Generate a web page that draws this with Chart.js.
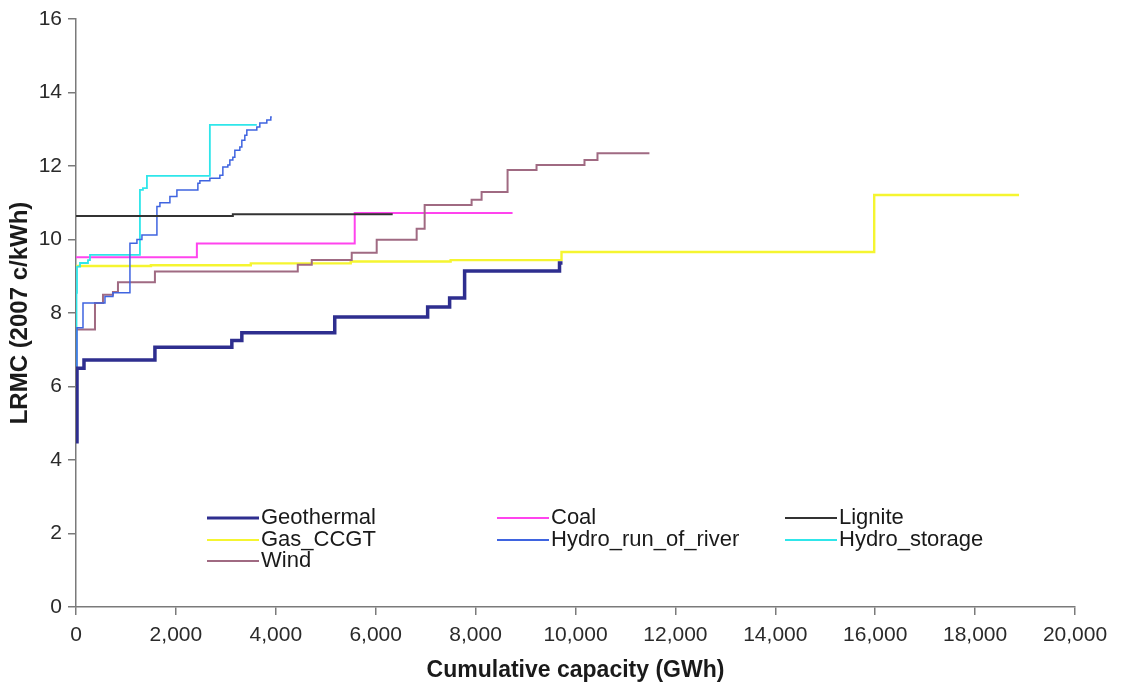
<!DOCTYPE html>
<html>
<head>
<meta charset="utf-8">
<script src="https://cdn.jsdelivr.net/npm/chart.js@4.4.0/dist/chart.umd.min.js"></script>
<style>
  html, body { margin: 0; padding: 0; background: #fff; }
  #wrap { width: 1132px; height: 684px; }
</style>
</head>
<body>
<div id="wrap"><canvas id="lrmcChart" width="1132" height="684"></canvas></div>
<script>
/* --------------- Supply curve steps: cumulative GWh where each block starts, LRMC in 2007 c/kWh --------------- */
const geothermalGWh = [0, 20, 160, 1580, 3120, 3320, 5180, 7040, 7480, 7780, 9680, 9740];
const geothermalLRMC = [4.5, 6.5, 6.72, 7.07, 7.25, 7.46, 7.89, 8.16, 8.41, 9.14, 9.36, 9.36];

const coalGWh = [0, 2420, 5580, 8740];
const coalLRMC = [9.52, 9.89, 10.72, 10.72];

const ligniteGWh = [0, 3140, 6340];
const ligniteLRMC = [10.64, 10.69, 10.69];

const gasGWh = [0, 1500, 3500, 5500, 7500, 9720, 15980, 18880];
const gasLRMC = [9.28, 9.3, 9.35, 9.4, 9.44, 9.66, 11.21, 11.21];

const hydroRunGWh = [0, 20, 140, 580, 740, 1080, 1220, 1320, 1620, 1680, 1880, 2020, 2440, 2480, 2680,
  2880, 2940, 3040, 3080, 3140, 3180, 3280, 3320, 3380, 3420, 3620, 3680, 3820, 3900, 3920];
const hydroRunLRMC = [4.5, 7.6, 8.27, 8.45, 8.55, 9.9, 10.0, 10.12, 10.9, 11.0, 11.17, 11.35, 11.53, 11.6, 11.67,
  11.75, 11.97, 12.03, 12.16, 12.24, 12.43, 12.52, 12.7, 12.84, 12.98, 13.06, 13.17, 13.25, 13.33, 13.33];

const hydroStorageGWh = [0, 10, 20, 80, 240, 280, 1280, 1340, 1420, 2680, 3620];
const hydroStorageLRMC = [4.6, 8.55, 9.26, 9.36, 9.44, 9.58, 11.35, 11.4, 11.73, 13.12, 13.12];

const windGWh = [0, 380, 540, 740, 840, 1580, 4440, 4720, 5520, 6020, 6820, 6980, 7920, 8120, 8640,
  9220, 10180, 10440, 11480];
const windLRMC = [7.55, 8.27, 8.5, 8.57, 8.84, 9.13, 9.31, 9.44, 9.64, 9.99, 10.29, 10.94, 11.08, 11.29, 11.89,
  12.03, 12.16, 12.35, 12.35];

/* --------------- Axis ticks --------------- */
const xTicks = [0, 2000, 4000, 6000, 8000, 10000, 12000, 14000, 16000, 18000, 20000];
const yTicks = [0, 2, 4, 6, 8, 10, 12, 14, 16];

const toPoints = (xs, ys) => xs.map((x, i) => ({ x: x, y: ys[i] }));

const FONT = "'Liberation Sans', Arial, sans-serif";

/* --------------- Series (first one is drawn on top) --------------- */
const series = [
  { label: "Lignite", data: toPoints(ligniteGWh, ligniteLRMC), color: "#333333", width: 2, col: 2, row: 0 },
  { label: "Geothermal", data: toPoints(geothermalGWh, geothermalLRMC), color: "#2e2e8f", width: 3.5, col: 0, row: 0 },
  { label: "Hydro_run_of_river", data: toPoints(hydroRunGWh, hydroRunLRMC), color: "#3f64e0", width: 1.5, col: 1, row: 1 },
  { label: "Hydro_storage", data: toPoints(hydroStorageGWh, hydroStorageLRMC), color: "#2fe6ea", width: 1.8, col: 2, row: 1 },
  { label: "Wind", data: toPoints(windGWh, windLRMC), color: "#a06a82", width: 2, col: 0, row: 2 },
  { label: "Coal", data: toPoints(coalGWh, coalLRMC), color: "#ff44ee", width: 2, col: 1, row: 0 },
  { label: "Gas_CCGT", data: toPoints(gasGWh, gasLRMC), color: "#f5f530", width: 2.4, col: 0, row: 1 },
];

/* --------------- Legend drawn inside the plot, three columns --------------- */
const insideLegend = {
  id: "insideLegend",
  afterDatasetsDraw(chart) {
    const ctx = chart.ctx;
    const area = chart.chartArea;
    const colX = [area.left + 131, area.left + 421, area.left + 709];
    const rowY = [area.top + 499, area.top + 521, area.top + 542];
    ctx.save();
    ctx.font = "22px " + FONT;
    ctx.textBaseline = "middle";
    ctx.fillStyle = "#1a1a1a";
    chart.data.datasets.forEach((ds) => {
      const x = colX[ds.legendCol];
      const y = rowY[ds.legendRow];
      ctx.strokeStyle = ds.borderColor;
      ctx.lineWidth = ds.legendCol === 0 && ds.legendRow === 0 ? 3 : 2;
      ctx.beginPath();
      ctx.moveTo(x, y);
      ctx.lineTo(x + 52, y);
      ctx.stroke();
      ctx.fillText(ds.label, x + 54, y);
    });
    ctx.restore();
  },
};

const lrmcChart = new Chart(document.getElementById("lrmcChart"), {
  type: "line",
  plugins: [insideLegend],
  data: {
    datasets: series.map((s) => ({
      label: s.label,
      data: s.data,
      borderColor: s.color,
      backgroundColor: s.color,
      borderWidth: s.width,
      stepped: true,
      pointRadius: 0,
      fill: false,
      legendCol: s.col,
      legendRow: s.row,
    })),
  },
  options: {
    responsive: false,
    animation: false,
    layout: { padding: { top: 19, right: 57, left: 0, bottom: 0 } },
    plugins: {
      legend: { display: false },
      tooltip: { enabled: false },
    },
    scales: {
      x: {
        type: "linear",
        min: 0,
        max: 20000,
        afterBuildTicks: (axis) => { axis.ticks = xTicks.map((v) => ({ value: v })); },
        afterFit: (axis) => { axis.height = 77; },
        border: { color: "#7a7a7a", width: 1.5 },
        grid: { drawOnChartArea: false, tickLength: 8, color: "#7a7a7a", lineWidth: 1.5 },
        ticks: {
          color: "#2a2a2a",
          padding: 8,
          maxRotation: 0,
          font: { family: FONT, size: 21 },
          callback: (v) => v.toLocaleString("en-US"),
        },
        title: {
          display: true,
          text: "Cumulative capacity (GWh)",
          color: "#1a1a1a",
          padding: { top: 0, bottom: 0 },
          font: { family: FONT, size: 23, weight: "bold" },
        },
      },
      y: {
        min: 0,
        max: 16,
        afterBuildTicks: (axis) => { axis.ticks = yTicks.map((v) => ({ value: v })); },
        afterFit: (axis) => { axis.width = 76; },
        border: { color: "#7a7a7a", width: 1.5 },
        grid: { drawOnChartArea: false, tickLength: 8, color: "#7a7a7a", lineWidth: 1.5 },
        ticks: {
          color: "#2a2a2a",
          padding: 6,
          font: { family: FONT, size: 21 },
        },
        title: {
          display: true,
          text: "LRMC (2007 c/kWh)",
          color: "#1a1a1a",
          padding: { top: 6, bottom: 0 },
          font: { family: FONT, size: 24, weight: "bold" },
        },
      },
    },
  },
});
</script>
</body>
</html>
